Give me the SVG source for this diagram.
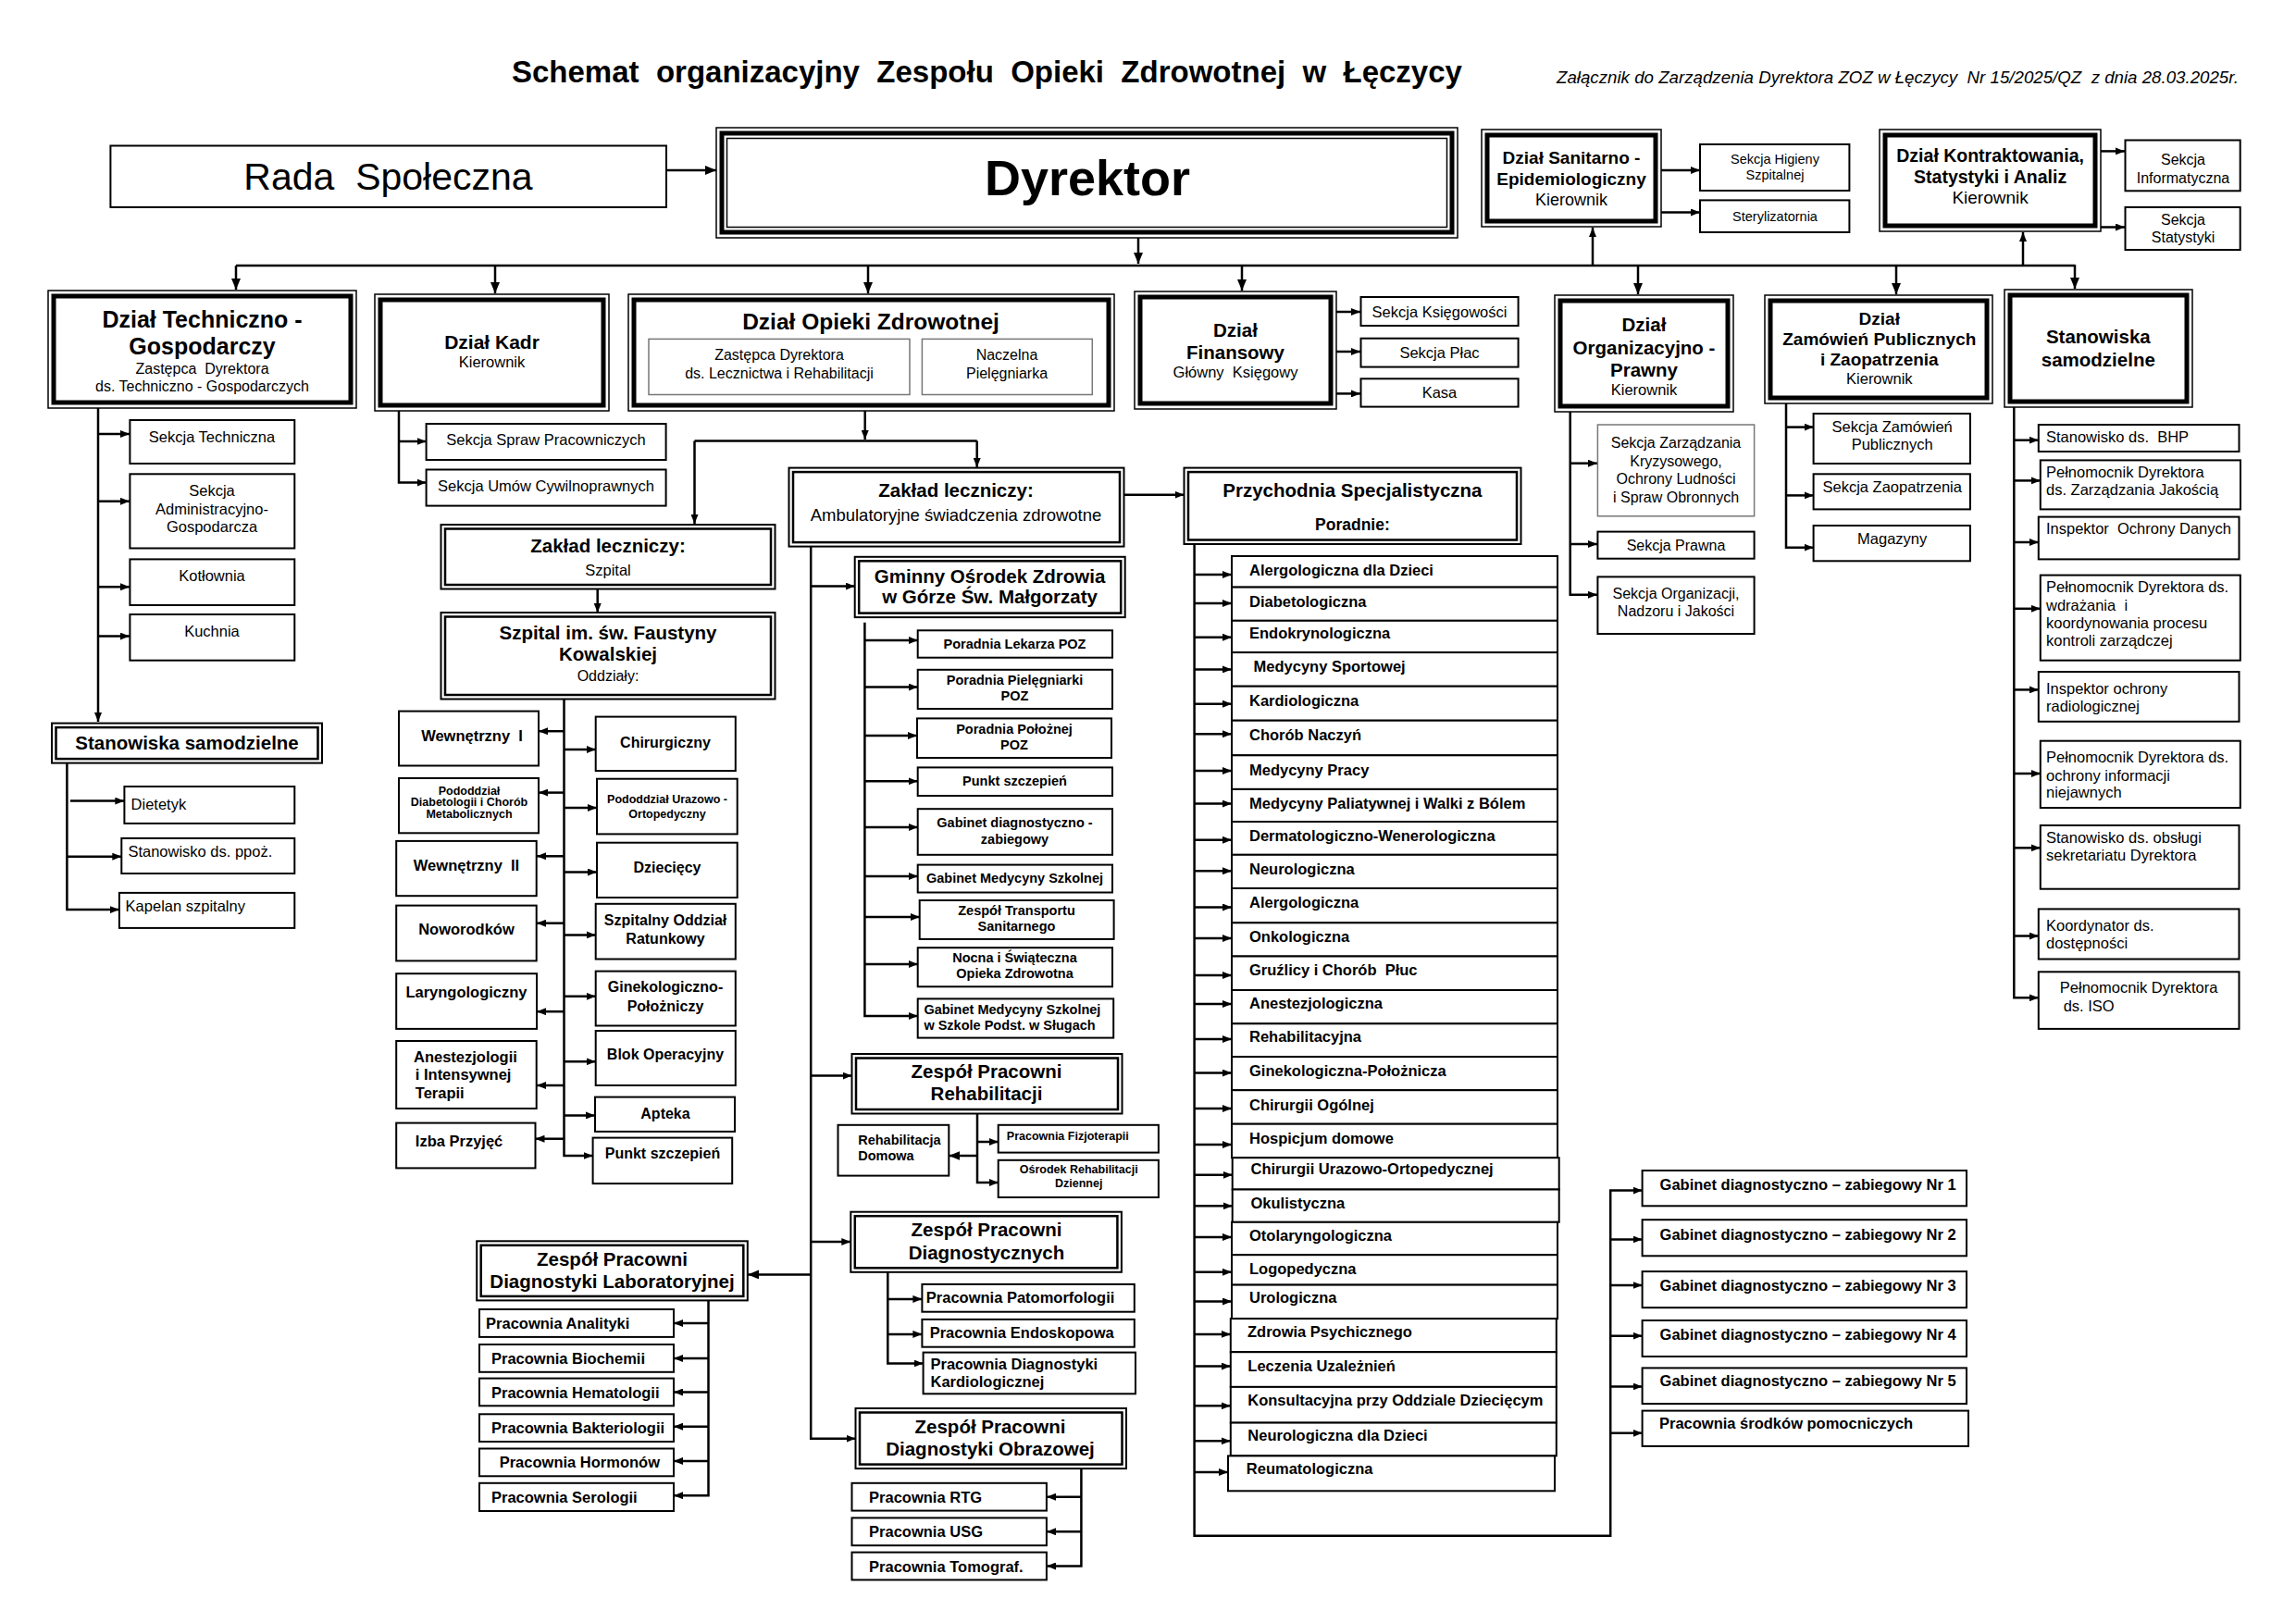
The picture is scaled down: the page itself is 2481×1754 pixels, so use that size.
<svg xmlns="http://www.w3.org/2000/svg" width="2481" height="1754" viewBox="0 0 2481 1754" xml:space="preserve"><defs><style>
.n{fill:#fff;stroke:#000;stroke-width:2}
.g{fill:#fff;stroke:#777;stroke-width:1.5}
.o{fill:#fff;stroke:#000;stroke-width:1.5}
.o2{fill:#fff;stroke:#000;stroke-width:2}
.k{fill:none;stroke:#000;stroke-width:5}
.i{fill:none;stroke:#000;stroke-width:2.5}
.t{fill:none;stroke:#000;stroke-width:1.5}
.c path{fill:none;stroke:#000;stroke-width:2.5}
text{font-family:"Liberation Sans",Arial,"DejaVu Sans",sans-serif;fill:#000;white-space:pre}
.m{text-anchor:middle}
.b{font-weight:bold}
.s12{font-size:12.5px}.s14{font-size:14.5px}.s15{font-size:16px}.s16{font-size:16.5px}.s17{font-size:17.5px}.s18{font-size:18.5px}.s19{font-size:19px}.s20{font-size:20.5px}.s21{font-size:21px}.s24{font-size:24.5px}.s25{font-size:25px}
</style><marker id="a" viewBox="0 0 10 8" refX="10" refY="4" markerWidth="10" markerHeight="8" markerUnits="userSpaceOnUse" orient="auto"><path d="M0,0L10,4L0,8z" fill="#000"/></marker><marker id="A" viewBox="0 0 12 10" refX="12" refY="5" markerWidth="12" markerHeight="10" markerUnits="userSpaceOnUse" orient="auto"><path d="M0,0L12,5L0,10z" fill="#000"/></marker></defs><rect width="2481" height="1754" fill="#fff"/><text x="553" y="89" class="b" style="font-size:33px">Schemat  organizacyjny  Zespołu  Opieki  Zdrowotnej  w  Łęczycy</text><text x="1682" y="89.6" style="font-size:18px;font-style:italic" textLength="737" lengthAdjust="spacingAndGlyphs">Załącznik do Zarządzenia Dyrektora ZOZ w Łęczycy  Nr 15/2025/QZ  z dnia 28.03.2025r.</text><g id="connectors" class="c"><path d="M720,184H774" marker-end="url(#A)"/><path d="M1230,257V285" marker-end="url(#A)"/><path d="M255,287H2242"/><path d="M255,287V313" marker-end="url(#A)"/><path d="M535,287V317" marker-end="url(#A)"/><path d="M938,287V317" marker-end="url(#A)"/><path d="M1342,287V314" marker-end="url(#A)"/><path d="M1770,287V318" marker-end="url(#A)"/><path d="M2049,287V318" marker-end="url(#A)"/><path d="M2242,286V312" marker-end="url(#A)"/><path d="M1721,287V246" marker-end="url(#a)"/><path d="M2186,287V251" marker-end="url(#a)"/><path d="M1795,184H1837" marker-end="url(#a)"/><path d="M1795,229.5H1837" marker-end="url(#a)"/><path d="M2270,163.4H2296" marker-end="url(#a)"/><path d="M2270,245.5H2296" marker-end="url(#a)"/><path d="M106,441V780" marker-end="url(#a)"/><path d="M106,469H140" marker-end="url(#a)"/><path d="M106,541.8H140" marker-end="url(#a)"/><path d="M106,634.3H140" marker-end="url(#a)"/><path d="M106,687.6H140" marker-end="url(#a)"/><path d="M72.4,825V983.1H128.9" marker-end="url(#a)"/><path d="M76,865.6H134.4" marker-end="url(#a)"/><path d="M72.4,925.7H131.3" marker-end="url(#a)"/><path d="M431,444V521.6H460.6" marker-end="url(#a)"/><path d="M431,477H460.6" marker-end="url(#a)"/><path d="M934.7,444V475" marker-end="url(#a)"/><path d="M750.5,476.5H1055.7"/><path d="M750.5,476.5V566" marker-end="url(#a)"/><path d="M1055.7,476.5V505" marker-end="url(#a)"/><path d="M1444,337H1470" marker-end="url(#a)"/><path d="M1444,380H1470" marker-end="url(#a)"/><path d="M1444,425.4H1470" marker-end="url(#a)"/><path d="M1696.7,445V642.8H1726" marker-end="url(#a)"/><path d="M1696.7,500.7H1726" marker-end="url(#a)"/><path d="M1696.7,588H1726" marker-end="url(#a)"/><path d="M1930,436V591.7H1959.6" marker-end="url(#a)"/><path d="M1930,461.6H1959.6" marker-end="url(#a)"/><path d="M1930,535.4H1959.6" marker-end="url(#a)"/><path d="M2176.3,440V1078.3H2202.8" marker-end="url(#a)"/><path d="M2176.3,475.7H2202.8" marker-end="url(#a)"/><path d="M2176.3,519.4H2204.8" marker-end="url(#a)"/><path d="M2176.3,586H2202.8" marker-end="url(#a)"/><path d="M2176.3,657.8H2204.8" marker-end="url(#a)"/><path d="M2176.3,745.4H2202.8" marker-end="url(#a)"/><path d="M2176.3,836H2204.8" marker-end="url(#a)"/><path d="M2176.3,916.3H2204.8" marker-end="url(#a)"/><path d="M2176.3,1011.5H2202.8" marker-end="url(#a)"/><path d="M1214.3,534.7H1279.5" marker-end="url(#a)"/><path d="M645.7,636.5V662" marker-end="url(#a)"/><path d="M609.5,755.5V1249H640.6" marker-end="url(#a)"/><path d="M609.5,790.2H582" marker-end="url(#a)"/><path d="M609.5,856.6H582" marker-end="url(#a)"/><path d="M609.5,925.3H580" marker-end="url(#a)"/><path d="M609.5,997.7H580" marker-end="url(#a)"/><path d="M609.5,1093.2H580" marker-end="url(#a)"/><path d="M609.5,1173H580" marker-end="url(#a)"/><path d="M609.5,1230.7H578.5" marker-end="url(#a)"/><path d="M609.5,810H643.7" marker-end="url(#a)"/><path d="M609.5,873H645" marker-end="url(#a)"/><path d="M609.5,942.5H645" marker-end="url(#a)"/><path d="M609.5,1010.4H643.7" marker-end="url(#a)"/><path d="M609.5,1076.8H643.7" marker-end="url(#a)"/><path d="M609.5,1147.3H643.7" marker-end="url(#a)"/><path d="M609.5,1205.4H643" marker-end="url(#a)"/><path d="M876.2,590.6V1554.7H924.5" marker-end="url(#a)"/><path d="M876.2,633.5H923.7" marker-end="url(#a)"/><path d="M876.2,1162.6H920.5" marker-end="url(#a)"/><path d="M876.2,1342H919.3" marker-end="url(#a)"/><path d="M876.2,1377.4H808" marker-end="url(#A)"/><path d="M934.4,672.7V1098H991.7" marker-end="url(#a)"/><path d="M934.4,692H991.7" marker-end="url(#a)"/><path d="M934.4,742.5H991.7" marker-end="url(#a)"/><path d="M934.4,795H991" marker-end="url(#a)"/><path d="M934.4,844.3H991.7" marker-end="url(#a)"/><path d="M934.4,894H991.7" marker-end="url(#a)"/><path d="M934.4,947H991.7" marker-end="url(#a)"/><path d="M934.4,991H993.7" marker-end="url(#a)"/><path d="M934.4,1042H991.7" marker-end="url(#a)"/><path d="M1056,1203.5V1278H1078.7" marker-end="url(#a)"/><path d="M1056,1234H1078.7" marker-end="url(#a)"/><path d="M1056,1249H1025.3" marker-end="url(#A)"/><path d="M959.3,1374.8V1473.5H997.6" marker-end="url(#a)"/><path d="M959.3,1403.9H996.4" marker-end="url(#a)"/><path d="M959.3,1441.9H996.4" marker-end="url(#a)"/><path d="M1168.4,1587V1692.5H1131" marker-end="url(#a)"/><path d="M1168.4,1617.7H1131" marker-end="url(#a)"/><path d="M1168.4,1655.3H1131" marker-end="url(#a)"/><path d="M765.5,1405.4V1616.2H728" marker-end="url(#a)"/><path d="M765.5,1430H728" marker-end="url(#a)"/><path d="M765.5,1468H728" marker-end="url(#a)"/><path d="M765.5,1504.5H728" marker-end="url(#a)"/><path d="M765.5,1541.7H728" marker-end="url(#a)"/><path d="M765.5,1578.9H728" marker-end="url(#a)"/><path d="M1290.6,588V1659.8H1740.2V1286.6H1774.6" marker-end="url(#a)"/><path d="M1290.6,621H1331" marker-end="url(#a)"/><path d="M1290.6,652H1331" marker-end="url(#a)"/><path d="M1290.6,688.7H1331" marker-end="url(#a)"/><path d="M1290.6,723.4H1331" marker-end="url(#a)"/><path d="M1290.6,760.7H1331" marker-end="url(#a)"/><path d="M1290.6,793.2H1331" marker-end="url(#a)"/><path d="M1290.6,833H1331" marker-end="url(#a)"/><path d="M1290.6,868.6H1331" marker-end="url(#a)"/><path d="M1290.6,907.8H1331" marker-end="url(#a)"/><path d="M1290.6,941.3H1331" marker-end="url(#a)"/><path d="M1290.6,980.5H1331" marker-end="url(#a)"/><path d="M1290.6,1014H1331" marker-end="url(#a)"/><path d="M1290.6,1054H1331" marker-end="url(#a)"/><path d="M1290.6,1085H1331" marker-end="url(#a)"/><path d="M1290.6,1123H1331" marker-end="url(#a)"/><path d="M1290.6,1159.6H1331" marker-end="url(#a)"/><path d="M1290.6,1198H1331" marker-end="url(#a)"/><path d="M1290.6,1237H1331" marker-end="url(#a)"/><path d="M1290.6,1269.8H1331.7" marker-end="url(#a)"/><path d="M1290.6,1303.3H1331.7" marker-end="url(#a)"/><path d="M1290.6,1336.9H1331" marker-end="url(#a)"/><path d="M1290.6,1374.8H1331" marker-end="url(#a)"/><path d="M1290.6,1406.5H1331" marker-end="url(#a)"/><path d="M1290.6,1441.9H1329.8" marker-end="url(#a)"/><path d="M1290.6,1476.5H1329.8" marker-end="url(#a)"/><path d="M1290.6,1519.3H1329.8" marker-end="url(#a)"/><path d="M1290.6,1557.3H1329.8" marker-end="url(#a)"/><path d="M1290.6,1590.9H1327" marker-end="url(#a)"/><path d="M1740.2,1339.5H1774.6" marker-end="url(#a)"/><path d="M1740.2,1389H1774.6" marker-end="url(#a)"/><path d="M1740.2,1443.7H1774.6" marker-end="url(#a)"/><path d="M1740.2,1498.5H1774.6" marker-end="url(#a)"/><path d="M1740.2,1548.8H1774.6" marker-end="url(#a)"/></g><g id="rada"><rect class="n" x="119.4" y="157.5" width="600.6" height="66.4"/><text x="419.5" y="204.5" class="m" style="font-size:41px">Rada  Społeczna</text></g><g id="dyrektor"><rect class="o" x="774" y="138" width="801" height="119"/><rect class="k" x="780" y="144" width="789" height="107"/><rect class="t" x="785.5" y="149.5" width="778" height="96"/><text x="1175" y="211" class="m b" style="font-size:54px">Dyrektor</text></g><g id="sanitarno"><rect class="o" x="1601" y="140" width="194" height="105"/><rect class="k" x="1607" y="146" width="182" height="93"/><text x="1698" y="177" class="m b s19">Dział Sanitarno -</text><text x="1698" y="199.6" class="m b s19">Epidemiologiczny</text><text x="1698" y="222" class="m" style="font-size:18px">Kierownik</text></g><g id="higieny"><rect class="n" x="1837" y="156" width="161.4" height="50"/><text x="1918" y="177.2" class="m s14">Sekcja Higieny</text><text x="1918" y="194" class="m s14">Szpitalnej</text></g><g id="sterylizatornia"><rect class="n" x="1837" y="216.4" width="161.4" height="34.6"/><text x="1918" y="238.8" class="m s14">Sterylizatornia</text></g><g id="kontraktowania"><rect class="o" x="2031" y="140" width="239" height="110"/><rect class="k" x="2037" y="146" width="227" height="98"/><text x="2150.6" y="174.6" class="m b" style="font-size:19.5px">Dział Kontraktowania,</text><text x="2150.6" y="197.8" class="m b" style="font-size:19.5px">Statystyki i Analiz</text><text x="2150.6" y="220" class="m s19">Kierownik</text></g><g id="informatyczna"><rect class="n" x="2296.5" y="151.5" width="124.2" height="54.8"/><text x="2359" y="178.4" class="m s15">Sekcja</text><text x="2359" y="197.8" class="m s15">Informatyczna</text></g><g id="statystyki"><rect class="n" x="2296.5" y="223.9" width="124.2" height="46.1"/><text x="2359" y="242.5" class="m s15">Sekcja</text><text x="2359" y="262.3" class="m s15">Statystyki</text></g><g id="techniczno"><rect class="o" x="52" y="314" width="333" height="127"/><rect class="k" x="58" y="320" width="321" height="115"/><text x="218.5" y="353.7" class="m b s25">Dział Techniczno -</text><text x="218.5" y="382.5" class="m b s25">Gospodarczy</text><text x="218.5" y="404" class="m s15">Zastępca  Dyrektora</text><text x="218.5" y="422.8" class="m s15">ds. Techniczno - Gospodarczych</text></g><g id="sek-techniczna"><rect class="n" x="140.4" y="454" width="177.9" height="47"/><text x="229" y="478" class="m s16">Sekcja Techniczna</text></g><g id="sek-admin"><rect class="n" x="140.4" y="512.3" width="177.9" height="80.2"/><text x="229" y="536" class="m s16">Sekcja</text><text x="229" y="556" class="m s16">Administracyjno-</text><text x="229" y="574.6" class="m s16">Gospodarcza</text></g><g id="kotlownia"><rect class="n" x="140.4" y="604.4" width="177.9" height="49.6"/><text x="229" y="628" class="m s16">Kotłownia</text></g><g id="kuchnia"><rect class="n" x="140.4" y="664" width="177.9" height="49.7"/><text x="229" y="688.4" class="m s16">Kuchnia</text></g><g id="stan-samodz-l"><rect class="o2" x="56" y="781.6" width="292" height="43"/><rect class="i" x="60.5" y="786.1" width="283" height="34"/><text x="202" y="810" class="m b s20">Stanowiska samodzielne</text></g><g id="dietetyk"><rect class="n" x="134.4" y="850" width="183.9" height="39.9"/><text x="141.6" y="875.3" class="s16">Dietetyk</text></g><g id="ppoz"><rect class="n" x="131.3" y="905.9" width="187" height="38.1"/><text x="138.4" y="926.4" class="s16">Stanowisko ds. ppoż.</text></g><g id="kapelan"><rect class="n" x="128.9" y="964.9" width="189.4" height="38"/><text x="135.6" y="985" class="s16">Kapelan szpitalny</text></g><g id="kadr"><rect class="o" x="405" y="318" width="253" height="126"/><rect class="k" x="411" y="324" width="241" height="114"/><text x="531.5" y="377" class="m b s21">Dział Kadr</text><text x="531.5" y="397" class="m s16">Kierownik</text></g><g id="spraw-prac"><rect class="n" x="460.6" y="458" width="259" height="39"/><text x="590" y="481" class="m s16">Sekcja Spraw Pracowniczych</text></g><g id="umow-cyw"><rect class="n" x="460.6" y="507.5" width="259" height="39.1"/><text x="590" y="530.6" class="m s16">Sekcja Umów Cywilnoprawnych</text></g><g id="opieki"><rect class="o" x="679" y="318" width="525" height="126"/><rect class="k" x="685" y="324" width="513" height="114"/><text x="941" y="356.3" class="m b s24">Dział Opieki Zdrowotnej</text><rect class="g" x="701" y="366.4" width="282" height="60.1"/><text x="842" y="389" class="m s15">Zastępca Dyrektora</text><text x="842" y="409" class="m s15">ds. Lecznictwa i Rehabilitacji</text><rect class="g" x="996.4" y="366.4" width="183.9" height="60.1"/><text x="1088" y="389" class="m s15">Naczelna</text><text x="1088" y="409" class="m s15">Pielęgniarka</text></g><g id="finansowy"><rect class="o" x="1226" y="315" width="218" height="127"/><rect class="k" x="1232" y="321" width="206" height="115"/><text x="1335" y="363.8" class="m b s20">Dział</text><text x="1335" y="388" class="m b s20">Finansowy</text><text x="1335" y="407.8" class="m s16">Główny  Księgowy</text></g><g id="ksiegowosci"><rect class="n" x="1470.5" y="321" width="170.1" height="31"/><text x="1555.5" y="342.5" class="m s16">Sekcja Księgowości</text></g><g id="plac"><rect class="n" x="1470.5" y="365.7" width="170.1" height="30.9"/><text x="1555.5" y="387" class="m s16">Sekcja Płac</text></g><g id="kasa"><rect class="n" x="1470.5" y="409.3" width="170.1" height="30.3"/><text x="1555.5" y="430" class="m s16">Kasa</text></g><g id="organizacyjno"><rect class="o" x="1680" y="319" width="193" height="126"/><rect class="k" x="1686" y="325" width="181" height="114"/><text x="1776.5" y="358" class="m b s20">Dział</text><text x="1776.5" y="382.5" class="m b s20">Organizacyjno -</text><text x="1776.5" y="406.7" class="m b s20">Prawny</text><text x="1776.5" y="426.5" class="m s16">Kierownik</text></g><g id="kryzysowe"><rect class="g" x="1726.4" y="459" width="169.2" height="98.8"/><text x="1811" y="484.3" class="m s15">Sekcja Zarządzania</text><text x="1811" y="503.7" class="m s15">Kryzysowego,</text><text x="1811" y="523" class="m s15">Ochrony Ludności</text><text x="1811" y="543" class="m s15">i Spraw Obronnych</text></g><g id="prawna"><rect class="n" x="1726.4" y="574.6" width="169.2" height="29.1"/><text x="1811" y="595" class="m s15">Sekcja Prawna</text></g><g id="organizacji"><rect class="n" x="1726.4" y="623.4" width="169.2" height="61.6"/><text x="1811" y="646.6" class="m s15">Sekcja Organizacji,</text><text x="1811" y="666" class="m s15">Nadzoru i Jakości</text></g><g id="zamowien"><rect class="o" x="1907" y="319" width="246" height="117"/><rect class="k" x="1913" y="325" width="234" height="105"/><text x="2030.8" y="350.7" class="m b s19">Dział</text><text x="2030.8" y="373" class="m b s19">Zamówień Publicznych</text><text x="2030.8" y="394.8" class="m b s19">i Zaopatrzenia</text><text x="2030.8" y="415.3" class="m s16">Kierownik</text></g><g id="sek-zamowien"><rect class="n" x="1959.6" y="447" width="169.3" height="54"/><text x="2044.7" y="467" class="m s16">Sekcja Zamówień</text><text x="2044.7" y="485.8" class="m s16">Publicznych</text></g><g id="zaopatrzenia"><rect class="n" x="1959.6" y="512.3" width="169.3" height="38.1"/><text x="2044.7" y="531.7" class="m s16">Sekcja Zaopatrzenia</text></g><g id="magazyny"><rect class="n" x="1959.6" y="568" width="169.3" height="38.3"/><text x="2044.7" y="588" class="m s16">Magazyny</text></g><g id="stan-samodz-r"><rect class="o" x="2166" y="313" width="203" height="127"/><rect class="k" x="2172" y="319" width="191" height="115"/><text x="2267.3" y="371.3" class="m b s20">Stanowiska</text><text x="2267.3" y="395.5" class="m b s20">samodzielne</text></g><g id="bhp"><rect class="n" x="2202.8" y="459" width="216.7" height="29"/><text x="2211" y="478.4" class="s16">Stanowisko ds.  BHP</text></g><g id="jakosc"><rect class="n" x="2204.8" y="497.4" width="216.2" height="53"/><text x="2211" y="516" class="s16">Pełnomocnik Dyrektora</text><text x="2211" y="535.4" class="s16">ds. Zarządzania Jakością</text></g><g id="iod"><rect class="n" x="2202.8" y="558.6" width="216.7" height="45.8"/><text x="2211" y="576.5" class="s16">Inspektor  Ochrony Danych</text></g><g id="kontrola"><rect class="n" x="2204.8" y="621.6" width="216" height="92.1"/><text x="2211" y="640.2" class="s16">Pełnomocnik Dyrektora ds.</text><text x="2211" y="659.6" class="s16">wdrażania  i</text><text x="2211" y="679" class="s16">koordynowania procesu</text><text x="2211" y="697.7" class="s16">kontroli zarządczej</text></g><g id="radiologia"><rect class="n" x="2202.8" y="726" width="216.7" height="53.8"/><text x="2211" y="750.3" class="s16">Inspektor ochrony</text><text x="2211" y="769" class="s16">radiologicznej</text></g><g id="niejawne"><rect class="n" x="2204.8" y="800.7" width="216" height="72.3"/><text x="2211" y="823.8" class="s16">Pełnomocnik Dyrektora ds.</text><text x="2211" y="843.6" class="s16">ochrony informacji</text><text x="2211" y="862.2" class="s16">niejawnych</text></g><g id="sekretariat"><rect class="n" x="2204.8" y="892" width="214.7" height="68.7"/><text x="2211" y="910.7" class="s16">Stanowisko ds. obsługi</text><text x="2211" y="930" class="s16">sekretariatu Dyrektora</text></g><g id="dostepnosc"><rect class="n" x="2202.8" y="982.4" width="216.7" height="54.1"/><text x="2211" y="1005.9" class="s16">Koordynator ds.</text><text x="2211" y="1024.6" class="s16">dostępności</text></g><g id="iso"><rect class="n" x="2202.8" y="1050.3" width="216.7" height="61.6"/><text x="2225.8" y="1073" class="s16">Pełnomocnik Dyrektora</text><text x="2229.7" y="1093.2" class="s16">ds. ISO</text></g><g id="zaklad-szpital"><rect class="o2" x="476.5" y="567" width="361" height="69.5"/><rect class="i" x="481" y="571.5" width="352" height="60.5"/><text x="657" y="597" class="m b s20">Zakład leczniczy:</text><text x="657" y="622.3" class="m s16">Szpital</text></g><g id="szpital"><rect class="o2" x="476.5" y="662" width="361" height="93.5"/><rect class="i" x="481" y="666.5" width="352" height="84.5"/><text x="657" y="691.3" class="m b s20">Szpital im. św. Faustyny</text><text x="657" y="713.7" class="m b s20">Kowalskiej</text><text x="657" y="736.1" class="m s15">Oddziały:</text></g><g id="wewn1"><rect class="n" x="431" y="768.6" width="151" height="58.9"/><text x="510" y="800.7" class="m b s16">Wewnętrzny  I</text></g><g id="diabetologia"><rect class="n" x="431" y="841" width="151" height="59.3"/><text x="507" y="858.5" class="m b s12">Pododdział</text><text x="507" y="870.8" class="m b s12">Diabetologii i Chorób</text><text x="507" y="883.5" class="m b s12">Metabolicznych</text></g><g id="wewn2"><rect class="n" x="428.2" y="908.9" width="151.5" height="59.3"/><text x="504" y="941.3" class="m b s16">Wewnętrzny  II</text></g><g id="noworodkow"><rect class="n" x="428.2" y="978.6" width="151.5" height="59.8"/><text x="504" y="1010.4" class="m b s16">Noworodków</text></g><g id="laryngo"><rect class="n" x="428.2" y="1052.2" width="151.8" height="59.7"/><text x="504" y="1077.5" class="m b s16">Laryngologiczny</text></g><g id="anestezjo"><rect class="n" x="428.2" y="1125" width="151.5" height="73"/><text x="447" y="1148.4" class="b s16">Anestezjologii</text><text x="448.8" y="1167" class="b s16">i Intensywnej</text><text x="448.8" y="1186.8" class="b s16">Terapii</text></g><g id="izba"><rect class="n" x="428.2" y="1213.6" width="150.3" height="48.8"/><text x="448.8" y="1238.9" class="b s16">Izba Przyjęć</text></g><g id="chirurgiczny"><rect class="n" x="643.7" y="774.6" width="151.1" height="58.5"/><text x="719" y="808" class="m b s15">Chirurgiczny</text></g><g id="urazowo"><rect class="n" x="645" y="841.7" width="151.7" height="59.7"/><text x="721" y="867.8" class="m b s12">Pododdział Urazowo -</text><text x="721" y="883.5" class="m b s12">Ortopedyczny</text></g><g id="dzieciecy"><rect class="n" x="645" y="910.7" width="151.7" height="59.3"/><text x="721" y="943.2" class="m b s15">Dziecięcy</text></g><g id="sor"><rect class="n" x="643.7" y="976.8" width="151.1" height="59.7"/><text x="719" y="1000.3" class="m b s15">Szpitalny Oddział</text><text x="719" y="1019.7" class="m b s15">Ratunkowy</text></g><g id="ginekol"><rect class="n" x="643.7" y="1049.6" width="151.1" height="58.9"/><text x="719" y="1072" class="m b s15">Ginekologiczno-</text><text x="719" y="1093.2" class="m b s15">Położniczy</text></g><g id="blok"><rect class="n" x="643.7" y="1114" width="151.1" height="59"/><text x="719" y="1144.7" class="m b s15">Blok Operacyjny</text></g><g id="apteka"><rect class="n" x="643" y="1185.6" width="151" height="37.3"/><text x="719" y="1209.1" class="m b s15">Apteka</text></g><g id="punkt-szp"><rect class="n" x="640.6" y="1229.6" width="150.6" height="49.5"/><text x="716" y="1252" class="m b s15">Punkt szczepień</text></g><g id="zaklad-amb"><rect class="o2" x="852.5" y="505.6" width="362" height="85"/><rect class="i" x="857" y="510.1" width="353" height="76"/><text x="1033" y="537.3" class="m b s20">Zakład leczniczy:</text><text x="1033" y="563.4" class="m s18">Ambulatoryjne świadczenia zdrowotne</text></g><g id="gminny"><rect class="o2" x="923.7" y="601.8" width="292" height="65.3"/><rect class="i" x="928.2" y="606.3" width="283" height="56.3"/><text x="1069.6" y="629.8" class="m b s20">Gminny Ośrodek Zdrowia</text><text x="1069.6" y="652.2" class="m b s20">w Górze Św. Małgorzaty</text></g><g id="lekarza"><rect class="n" x="991.7" y="681.3" width="210.3" height="29.4"/><text x="1096.5" y="700.7" class="m b s14">Poradnia Lekarza POZ</text></g><g id="pielegniarki"><rect class="n" x="991.7" y="723.8" width="210.3" height="42.2"/><text x="1096.5" y="739.9" class="m b s14">Poradnia Pielęgniarki</text><text x="1096.5" y="757.4" class="m b s14">POZ</text></g><g id="poloznej"><rect class="n" x="991" y="776.4" width="210" height="42.6"/><text x="1096" y="793.2" class="m b s14">Poradnia Położnej</text><text x="1096" y="810" class="m b s14">POZ</text></g><g id="punkt-gm"><rect class="n" x="991.7" y="829.4" width="210.3" height="30.6"/><text x="1096.5" y="849.2" class="m b s14">Punkt szczepień</text></g><g id="gab-gm"><rect class="n" x="991.7" y="874.2" width="210.3" height="49.6"/><text x="1096.5" y="894" class="m b s14">Gabinet diagnostyczno -</text><text x="1096.5" y="911.5" class="m b s14">zabiegowy</text></g><g id="szkolnej"><rect class="n" x="991.7" y="934.6" width="210.3" height="29.9"/><text x="1096.5" y="954.4" class="m b s14">Gabinet Medycyny Szkolnej</text></g><g id="transport"><rect class="n" x="993.7" y="973" width="209.9" height="41.9"/><text x="1098.5" y="989.1" class="m b s14">Zespół Transportu</text><text x="1098.5" y="1005.9" class="m b s14">Sanitarnego</text></g><g id="nocna"><rect class="n" x="991.7" y="1024.2" width="210.3" height="42.1"/><text x="1096.5" y="1040.2" class="m b s14">Nocna i Świąteczna</text><text x="1096.5" y="1057" class="m b s14">Opieka Zdrowotna</text></g><g id="slugi"><rect class="n" x="991.7" y="1079.4" width="211.5" height="42.2"/><text x="998.4" y="1096.2" class="b s14">Gabinet Medycyny Szkolnej</text><text x="998.4" y="1113" class="b s14">w Szkole Podst. w Sługach</text></g><g id="rehab"><rect class="o2" x="920.5" y="1139" width="292" height="64.5"/><rect class="i" x="925" y="1143.5" width="283" height="55.5"/><text x="1066" y="1165.2" class="m b s20">Zespół Pracowni</text><text x="1066" y="1188.6" class="m b s20">Rehabilitacji</text></g><g id="rehab-dom"><rect class="n" x="905.5" y="1215.8" width="119.8" height="54.8"/><text x="927.2" y="1237" class="b s14">Rehabilitacja</text><text x="927.2" y="1253.8" class="b s14">Domowa</text></g><g id="fizjo"><rect class="n" x="1078.7" y="1215.8" width="173.2" height="29.8"/><text x="1087.8" y="1231.5" class="b s12">Pracownia Fizjoterapii</text></g><g id="dzienny"><rect class="n" x="1078.7" y="1253.8" width="173.2" height="40.2"/><text x="1165.7" y="1267.6" class="m b s12">Ośrodek Rehabilitacji</text><text x="1165.7" y="1282.5" class="m b s12">Dziennej</text></g><g id="diagnostycznych"><rect class="o2" x="919.3" y="1309.7" width="292.6" height="65.1"/><rect class="i" x="923.8" y="1314.2" width="283.6" height="56.1"/><text x="1066" y="1335.7" class="m b s20">Zespół Pracowni</text><text x="1066" y="1360.7" class="m b s20">Diagnostycznych</text></g><g id="patomorf"><rect class="n" x="996.4" y="1387.9" width="229.4" height="29.8"/><text x="1000.8" y="1408.4" class="b s16">Pracownia Patomorfologii</text></g><g id="endoskop"><rect class="n" x="996.4" y="1425.9" width="229.4" height="29.8"/><text x="1004.7" y="1446.4" class="b s16">Pracownia Endoskopowa</text></g><g id="kardio"><rect class="n" x="997.6" y="1461.6" width="229.4" height="44.7"/><text x="1005.5" y="1480.2" class="b s16">Pracownia Diagnostyki</text><text x="1005.5" y="1498.9" class="b s16">Kardiologicznej</text></g><g id="obrazowa"><rect class="o2" x="924.5" y="1522" width="292.5" height="65.1"/><rect class="i" x="929" y="1526.5" width="283.5" height="56.1"/><text x="1070" y="1549.1" class="m b s20">Zespół Pracowni</text><text x="1070" y="1573.4" class="m b s20">Diagnostyki Obrazowej</text></g><g id="rtg"><rect class="n" x="920.5" y="1602.8" width="210.4" height="29.8"/><text x="939.1" y="1623.6" class="b s16">Pracownia RTG</text></g><g id="usg"><rect class="n" x="920.5" y="1640.4" width="210.4" height="29.8"/><text x="939.1" y="1660.9" class="b s16">Pracownia USG</text></g><g id="tomograf"><rect class="n" x="920.5" y="1677.6" width="210.4" height="29.8"/><text x="939.1" y="1698.9" class="b s16">Pracownia Tomograf.</text></g><g id="laboratoryjnej"><rect class="o2" x="515.2" y="1341.3" width="292.6" height="64.1"/><rect class="i" x="519.7" y="1345.8" width="283.6" height="55.1"/><text x="661.5" y="1368.1" class="m b s20">Zespół Pracowni</text><text x="661.5" y="1392.3" class="m b s20">Diagnostyki Laboratoryjnej</text></g><g id="analityki"><rect class="n" x="518" y="1415" width="210" height="29.9"/><text x="525.1" y="1435.5" class="b s16">Pracownia Analityki</text></g><g id="biochemii"><rect class="n" x="518" y="1453" width="210" height="29.8"/><text x="531" y="1473.5" class="b s16">Pracownia Biochemii</text></g><g id="hematologii"><rect class="n" x="518" y="1489.6" width="210" height="29.7"/><text x="531" y="1510.8" class="b s16">Pracownia Hematologii</text></g><g id="bakteriologii"><rect class="n" x="518" y="1528.3" width="210" height="29.7"/><text x="531" y="1548.8" class="b s16">Pracownia Bakteriologii</text></g><g id="hormonow"><rect class="n" x="518" y="1565.5" width="210" height="29.8"/><text x="539.7" y="1586.4" class="b s16">Pracownia Hormonów</text></g><g id="serologii"><rect class="n" x="518" y="1602.8" width="210" height="30.2"/><text x="531" y="1623.6" class="b s16">Pracownia Serologii</text></g><g id="przychodnia"><rect class="o2" x="1279.5" y="505.6" width="364" height="82.4"/><rect class="i" x="1284" y="510.1" width="355" height="73.4"/><text x="1461.4" y="537.3" class="m b s20">Przychodnia Specjalistyczna</text><text x="1461.4" y="572.8" class="m b s17">Poradnie:</text></g><g id="poradnie"><rect class="n" x="1331" y="601" width="352" height="33.6"/><text x="1350" y="622.3" class="b s16">Alergologiczna dla Dzieci</text><rect class="n" x="1331" y="634.6" width="352" height="36.2"/><text x="1350" y="655.9" class="b s16">Diabetologiczna</text><rect class="n" x="1331" y="670.8" width="352" height="34.3"/><text x="1350" y="689.5" class="b s16">Endokrynologiczna</text><rect class="n" x="1331" y="705.1" width="352" height="36.6"/><text x="1350" y="726" class="b s16"> Medycyny Sportowej</text><rect class="n" x="1331" y="741.7" width="352" height="37"/><text x="1350" y="763.4" class="b s16">Kardiologiczna</text><rect class="n" x="1331" y="778.7" width="352" height="37.6"/><text x="1350" y="799.6" class="b s16">Chorób Naczyń</text><rect class="n" x="1331" y="816.3" width="352" height="36.6"/><text x="1350" y="838" class="b s16">Medycyny Pracy</text><rect class="n" x="1331" y="852.9" width="352" height="35.1"/><text x="1350" y="874.2" class="b s16">Medycyny Paliatywnej i Walki z Bólem</text><rect class="n" x="1331" y="888" width="352" height="35.8"/><text x="1350" y="908.9" class="b s16">Dermatologiczno-Wenerologiczna</text><rect class="n" x="1331" y="923.8" width="352" height="36.2"/><text x="1350" y="945" class="b s16">Neurologiczna</text><rect class="n" x="1331" y="960" width="352" height="37.3"/><text x="1350" y="980.5" class="b s16">Alergologiczna</text><rect class="n" x="1331" y="997.3" width="352" height="36.2"/><text x="1350" y="1017.8" class="b s16">Onkologiczna</text><rect class="n" x="1331" y="1033.5" width="352" height="36.5"/><text x="1350" y="1054.4" class="b s16">Gruźlicy i Chorób  Płuc</text><rect class="n" x="1331" y="1070" width="352" height="36.3"/><text x="1350" y="1089.5" class="b s16">Anestezjologiczna</text><rect class="n" x="1331" y="1106.3" width="352" height="35.8"/><text x="1350" y="1126" class="b s16">Rehabilitacyjna</text><rect class="n" x="1331" y="1142.1" width="352" height="36.1"/><text x="1350" y="1163" class="b s16">Ginekologiczna-Położnicza</text><rect class="n" x="1331" y="1178.2" width="352" height="36.5"/><text x="1350" y="1199.8" class="b s16">Chirurgii Ogólnej</text><rect class="n" x="1331" y="1214.7" width="352" height="36.5"/><text x="1350" y="1236.3" class="b s16">Hospicjum domowe</text><rect class="n" x="1331.7" y="1251.2" width="353" height="34.3"/><text x="1351.5" y="1268.7" class="b s16">Chirurgii Urazowo-Ortopedycznej</text><rect class="n" x="1331.7" y="1285.5" width="353" height="35.3"/><text x="1351.5" y="1305.9" class="b s16">Okulistyczna</text><rect class="n" x="1331" y="1320.8" width="352" height="35.4"/><text x="1350" y="1340.6" class="b s16">Otolaryngologiczna</text><rect class="n" x="1331" y="1356.2" width="352" height="32.4"/><text x="1350" y="1376.7" class="b s16">Logopedyczna</text><rect class="n" x="1331" y="1388.6" width="352" height="36.5"/><text x="1350" y="1408.4" class="b s16">Urologiczna</text><rect class="n" x="1329.8" y="1425.1" width="352" height="36.1"/><text x="1348" y="1444.9" class="b s16">Zdrowia Psychicznego</text><rect class="n" x="1329.8" y="1461.2" width="352" height="37.7"/><text x="1348.3" y="1482" class="b s16">Leczenia Uzależnień</text><rect class="n" x="1329.8" y="1498.9" width="352" height="38.7"/><text x="1348.3" y="1519" class="b s16">Konsultacyjna przy Oddziale Dziecięcym</text><rect class="n" x="1329.8" y="1537.6" width="352" height="35.8"/><text x="1348.3" y="1557.3" class="b s16">Neurologiczna dla Dzieci</text><rect class="n" x="1327" y="1573.4" width="353" height="37.9"/><text x="1346.8" y="1592.7" class="b s16">Reumatologiczna</text></g><g id="gabinety"><rect class="n" x="1774.6" y="1265" width="350.4" height="38.3"/><text x="1793.6" y="1285.5" class="b s16">Gabinet diagnostyczno – zabiegowy Nr 1</text><rect class="n" x="1774.6" y="1318.2" width="350.4" height="39.1"/><text x="1793.6" y="1339.5" class="b s16">Gabinet diagnostyczno – zabiegowy Nr 2</text><rect class="n" x="1774.6" y="1374.1" width="350.4" height="39.1"/><text x="1793.6" y="1394.6" class="b s16">Gabinet diagnostyczno – zabiegowy Nr 3</text><rect class="n" x="1774.6" y="1427" width="350.4" height="39"/><text x="1793.6" y="1447.5" class="b s16">Gabinet diagnostyczno – zabiegowy Nr 4</text><rect class="n" x="1774.6" y="1478.4" width="350.4" height="38.7"/><text x="1793.6" y="1497.8" class="b s16">Gabinet diagnostyczno – zabiegowy Nr 5</text><rect class="n" x="1774.6" y="1524.6" width="352.4" height="38.3"/><text x="1793" y="1543.6" class="b s16">Pracownia środków pomocniczych</text></g></svg>
